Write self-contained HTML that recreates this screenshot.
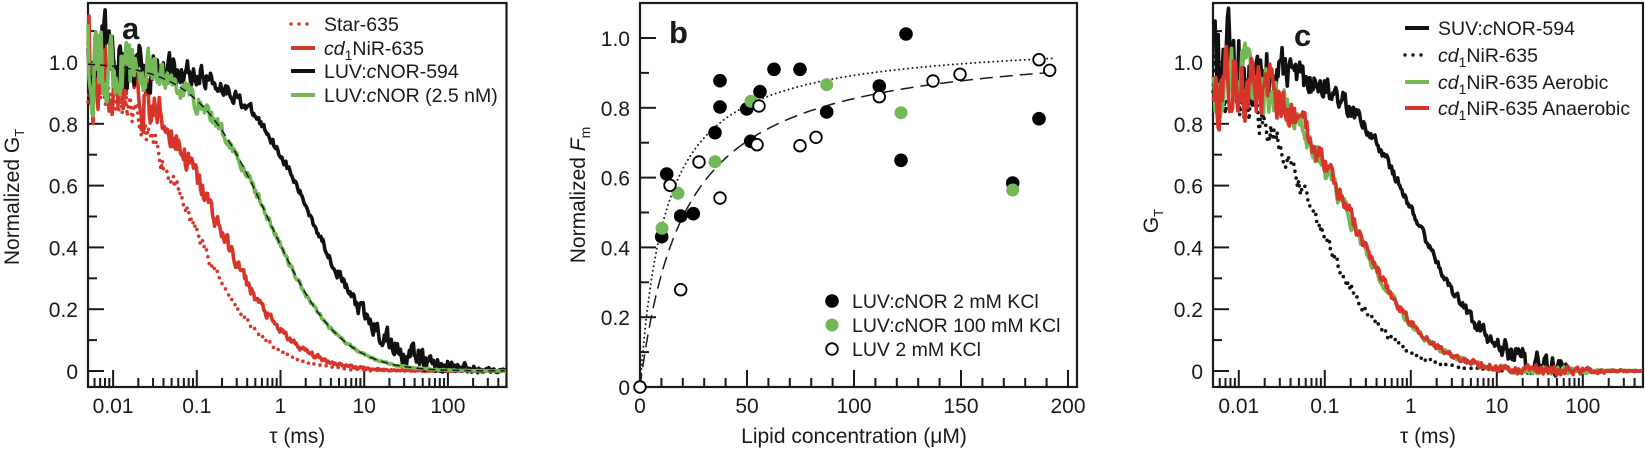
<!DOCTYPE html>
<html><head><meta charset="utf-8"><style>
html,body{margin:0;padding:0;background:#fff}
svg{display:block}
text{font-family:"Liberation Sans",Arial,sans-serif;fill:#1a1a1a}
</style></head><body>
<svg id="s" width="1645" height="451" viewBox="0 0 1645 451" xmlns="http://www.w3.org/2000/svg"></svg>
<script>
const S=document.getElementById('s');const NS='http://www.w3.org/2000/svg';
function el(t,a,txt){const e=document.createElementNS(NS,t);for(const k in a)e.setAttribute(k,a[k]);if(txt!==undefined)e.textContent=txt;S.appendChild(e);return e;}
function txt(x,y,s,o){o=o||{};const e=el('text',Object.assign({x:x,y:y,'font-size':o.fs||21,'text-anchor':o.anchor||'start'},o.extra||{}));e.innerHTML=s;return e;}
let seed=11;function rnd(){seed=(seed*16807)%2147483647;return seed/2147483647-0.5;}
const BOT=387,TOP=3;
function yG(v){return 371-v*309;}
function fcs(t,td){return 1/(1+t/td)/Math.sqrt(1+t/(25*td));}
function logPanel(x0,dec,series,fitTd){
  const X=l=>x0+(l+2.3)*dec;
  el('rect',{x:x0,y:TOP,width:5*dec,height:BOT-TOP,fill:'none',stroke:'#1a1a1a','stroke-width':2.2});
  for(let i=0;i<=11;i++){const y=yG(i/10);const L=i%2==0?16:9;el('line',{x1:x0,y1:y,x2:x0+L,y2:y,stroke:'#1a1a1a','stroke-width':2});}
  ['0','0.2','0.4','0.6','0.8','1.0'].forEach((s,i)=>txt(x0-10,yG(i*0.2)+8,s,{anchor:'end'}));
  for(let d=-3;d<=2;d++)for(let m=1;m<=9;m++){const l=d+Math.log10(m);if(l<-2.3||l>2.7)continue;const x=X(l);const L=m==1?17:9;el('line',{x1:x,y1:BOT,x2:x,y2:BOT-L,stroke:'#1a1a1a','stroke-width':2});}
  ['0.01','0.1','1','10','100'].forEach((s,i)=>txt(X(i-2),413,s,{anchor:'middle'}));
  txt(x0+2.5*dec,443,'τ (ms)',{anchor:'middle'});
  series.forEach(sr=>{
    let d='';let w=0;
    for(let l=-2.3;l<=2.7;l+=0.012){
      const t=Math.pow(10,l);let amp=sr.noise*Math.pow(0.006/t,0.5);if(sr.tailnoise)amp+=sr.tailnoise*Math.exp(-Math.pow((l-1.5)/0.8,2));
      w=0.45*w+rnd();let v=fcs(t,sr.td)+amp*w*2.2;
      if(sr.maxl&&l>sr.maxl)break;
      d+=(d?'L':'M')+X(l).toFixed(1)+','+yG(v).toFixed(1);
    }
    el('path',{d:d,fill:'none',stroke:sr.c,'stroke-width':sr.dot?3.6:3.6,'stroke-dasharray':sr.dot?'0 7':'none','stroke-linecap':sr.dot?'round':'butt','stroke-linejoin':'round'});
  });
  if(fitTd){let d='';for(let l=-2.3;l<=2.7;l+=0.02){d+=(d?'L':'M')+X(l).toFixed(1)+','+yG(fcs(Math.pow(10,l),fitTd)).toFixed(1);}
    el('path',{d:d,fill:'none',stroke:'#1a1a1a','stroke-width':1.5,'stroke-dasharray':'7 5'});}
}
logPanel(88,83.7,[
 {td:0.085,c:'#d8352a',dot:true,noise:0.06},
 {td:0.17,c:'#d8352a',noise:0.13},
 {td:2.4,c:'#111',noise:0.12,tailnoise:0.03},
 {td:0.72,c:'#72b856',noise:0.11}
],0.72);
txt(122,39,'a',{fs:31,extra:{'font-weight':'bold'}});
function legLine(x,y,c,dot,label){el('line',{x1:x,y1:y,x2:x+24,y2:y,stroke:c,'stroke-width':dot?3.4:4,'stroke-dasharray':dot?'0 8':'none','stroke-linecap':dot?'round':'butt'});txt(x+33,y+7,label,{fs:19.5});}
const sub='<tspan font-style="italic">cd</tspan><tspan font-size="14" dy="5">1</tspan><tspan dy="-5">NiR-635</tspan>';
legLine(291,24,'#d8352a',true,'Star-635');
legLine(291,48,'#d8352a',false,sub);
legLine(291,71,'#111',false,'LUV:<tspan font-style="italic">c</tspan>NOR-594');
legLine(291,95,'#72b856',false,'LUV:<tspan font-style="italic">c</tspan>NOR (2.5 nM)');
txt(0,0,'Normalized G<tspan font-size="13" dy="5">T</tspan>',{anchor:'middle',extra:{transform:'translate(19,197) rotate(-90)'}});
logPanel(1213,86,[
 {td:0.08,c:'#111',dot:true,noise:0.07},
 {td:1.15,c:'#111',noise:0.13,tailnoise:0.03,maxl:1.85},
 {td:0.2,c:'#72b856',noise:0.11,tailnoise:0.008},
 {td:0.21,c:'#d8352a',noise:0.12,tailnoise:0.01}
]);
txt(1294,46,'c',{fs:31,extra:{'font-weight':'bold'}});
legLine(1405,28,'#111',false,'SUV:<tspan font-style="italic">c</tspan>NOR-594');
legLine(1405,55,'#111',true,sub);
legLine(1405,82,'#72b856',false,sub+' Aerobic');
legLine(1405,108,'#d8352a',false,sub+' Anaerobic');
txt(0,0,'G<tspan font-size="13" dy="5">T</tspan>',{anchor:'middle',extra:{transform:'translate(1158,221) rotate(-90)'}});
const bx0=640,bx=v=>bx0+v*107/50,by=v=>387-v*349;
el('rect',{x:bx0,y:TOP,width:1077-bx0,height:BOT-TOP,fill:'none',stroke:'#1a1a1a','stroke-width':2.2});
for(let i=0;i<=10;i++){const y=by(i/10);const L=i%2==0?16:9;el('line',{x1:bx0,y1:y,x2:bx0+L,y2:y,stroke:'#1a1a1a','stroke-width':2});}
['0','0.2','0.4','0.6','0.8','1.0'].forEach((s,i)=>txt(bx0-10,by(i*0.2)+8,s,{anchor:'end'}));
for(let v=10;v<=200;v+=10){const x=bx(v);const L=v%50==0?17:9;el('line',{x1:x,y1:BOT,x2:x,y2:BOT-L,stroke:'#1a1a1a','stroke-width':2});}
['0','50','100','150','200'].forEach((s,i)=>txt(bx(i*50),413,s,{anchor:'middle'}));
txt(bx(100),443,'Lipid concentration (μM)',{anchor:'middle'});
txt(0,0,'Normalized <tspan font-style="italic">F</tspan><tspan font-size="14" dy="5">m</tspan>',{anchor:'middle',extra:{transform:'translate(585,195) rotate(-90)'}});
txt(669,43,'b',{fs:31,extra:{'font-weight':'bold'}});
function hyp(F,K,st){let d='';for(let v=0;v<=193;v+=1){d+=(d?'L':'M')+bx(v).toFixed(1)+','+by(F*v/(K+v)).toFixed(1);}el('path',{d:d,fill:'none',stroke:'#1a1a1a','stroke-width':st=='dot'?2:1.5,'stroke-dasharray':st=='dot'?'0 4.5':'13 7','stroke-linecap':st=='dot'?'round':'butt'});}
hyp(1.0,12,'dot');hyp(1.0,21,'dash');
const blk=[[661.7,236.7],[666.7,174],[680.7,216],[693.3,213.7],[715,132.7],[720,80.7],[720,107],[746.7,109],[750.7,141.3],[760,91.7],[774,69.3],[800,69.3],[826.7,112],[879.3,86],[906,34],[901,160.3],[1012.7,183],[1039,118.7]];
const grn=[[662,228.3],[678,193.3],[715,161.7],[751,101.3],[826.7,84.7],[901,112.7],[1012.7,190]];
const opn=[[640,387],[670,185.3],[680.7,289.7],[699,162],[720,198],[759,106],[757,144.7],[800,145.7],[816,137.3],[879.3,96.7],[933,81],[960,74.3],[1039,59.7],[1049.7,70.3]];
blk.forEach(p=>el('circle',{cx:p[0],cy:p[1],r:6.8,fill:'#000'}));
grn.forEach(p=>el('circle',{cx:p[0],cy:p[1],r:6.5,fill:'#72b856'}));
opn.forEach(p=>el('circle',{cx:p[0],cy:p[1],r:5.8,fill:'#fff',stroke:'#000','stroke-width':1.8}));
el('circle',{cx:832,cy:301,r:6.8,fill:'#000'});
el('circle',{cx:832,cy:325,r:6.5,fill:'#72b856'});
el('circle',{cx:832,cy:349,r:5.8,fill:'#fff',stroke:'#000','stroke-width':1.8});
txt(852,308,'LUV:<tspan font-style="italic">c</tspan>NOR 2 mM KCl',{fs:19.5});
txt(852,332,'LUV:<tspan font-style="italic">c</tspan>NOR 100 mM KCl',{fs:19.5});
txt(852,356,'LUV 2 mM KCl',{fs:19.5});
</script>
</body></html>
